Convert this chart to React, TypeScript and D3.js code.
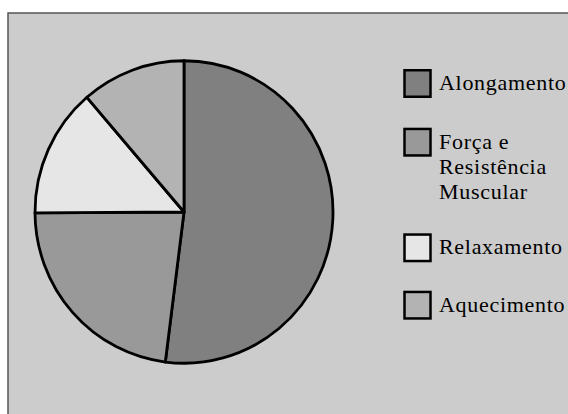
import React from "react";
import * as d3 from "d3";

const categories = ["Alongamento", "Força e Resistência Muscular", "Relaxamento", "Aquecimento"];
const legendLines = [["Alongamento"], ["Força e", "Resistência", "Muscular"], ["Relaxamento"], ["Aquecimento"]];
const values = [52.0, 22.9, 13.8, 11.3];
const colors = ["#808080", "#999999", "#e6e6e6", "#b3b3b3"];

export default function App() {
  const W = 568, H = 414;
  const cx = 184, cy = 212, r = 149;
  const pie = d3.pie<number>().sort(null).value((d) => d).startAngle(0).endAngle(2 * Math.PI);
  const arcs = pie(values);
  const arc = d3.arc<d3.PieArcDatum<number>>().innerRadius(0).outerRadius(r);
  const boxTops = [69, 127.7, 233.3, 290.7];
  return (
    <svg width={W} height={H} style={{ position: "absolute", left: 0, top: 0, display: "block" }}>
      <rect x={0} y={0} width={W} height={H} fill="#ffffff" />
      <rect x={8} y={13} width={W + 20} height={H + 20} fill="#cccccc" stroke="#555555" strokeWidth={1.5} />
      <g transform={`translate(${cx},${cy}) scale(1,1.015)`}>
        {arcs.map((a, i) => (
          <path key={i} d={arc(a) || ""} fill={colors[i]} stroke="#000" strokeWidth={2.8} strokeLinejoin="round" vectorEffect="non-scaling-stroke" />
        ))}
      </g>
      {categories.map((c, i) => (
        <g key={c}>
          <rect x={404.5} y={boxTops[i] + 1.25} width={26} height={26.5} fill={colors[i]} stroke="#000" strokeWidth={2.5} />
          <text x={439} y={boxTops[i] + 21} style={{ fontFamily: '"Liberation Serif"', fontSize: "22px", letterSpacing: "0.7px" }} fill="#000">
            {legendLines[i].map((l, j) => (
              <tspan key={j} x={439} dy={j === 0 ? 0 : 25.3}>{l}</tspan>
            ))}
          </text>
        </g>
      ))}
    </svg>
  );
}
